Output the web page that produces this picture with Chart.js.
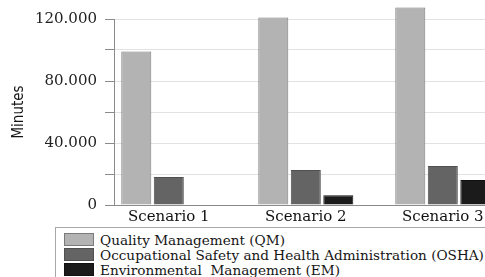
<!DOCTYPE html>
<html>
<head>
<meta charset="utf-8">
<script src="https://cdn.jsdelivr.net/npm/chart.js@4/dist/chart.umd.min.js"></script>
<style>
    html, body { margin: 0; padding: 0; background: #fff; overflow: hidden; width: 485px; height: 277px; }
    #wrap { position: relative; width: 485px; height: 277px; }
    #chart { position: absolute; left: 0; top: 0; }
    #legend {
        position: absolute; left: 55px; top: 227px; width: 440px; height: 60px;
        border: 1px solid #a8a8a8; box-sizing: border-box; padding: 4px 0 0 8px;
        font-family: 'DejaVu Serif', serif; font-size: 13.6px; color: #151515;
    }
    .row { display: flex; align-items: center; height: 15px; white-space: pre; }
    .sw { width: 28px; height: 11px; margin-right: 6px; border: 1px solid #777; flex: none; }
</style>
</head>
<body>
<div id="wrap">
    <canvas id="chart" width="485" height="224"></canvas>
    <div id="legend"></div>
</div>
<script>
var categories = ['Scenario 1', 'Scenario 2', 'Scenario 3'];
var seriesNames = [
    'Quality Management (QM)',
    'Occupational Safety and Health Administration (OSHA)',
    'Environmental  Management (EM)'
];
var qmValues = [99000, 121000, 127500];
var oshaValues = [18000, 22600, 25200];
var emValues = [400, 6300, 16100];
var yTicks = [0, 20000, 40000, 60000, 80000, 100000, 120000];

var fills = ['#b3b3b3', '#646464', '#1b1b1b'];
var borders = ['#7a7a7a', '#505050', '#111111'];

function points(values) {
    return values.map(function (v, i) { return { x: i + 1, y: v }; });
}

function noPadding(scale) {
    scale.paddingTop = 0;
    scale.paddingBottom = 0;
    scale.paddingLeft = 0;
    scale.paddingRight = 0;
}

document.addEventListener('DOMContentLoaded', function () {
    var ctx = document.getElementById('chart').getContext('2d');
    var all = [qmValues, oshaValues, emValues];
    var datasets = all.map(function (vals, i) {
        return {
            label: seriesNames[i],
            data: points(vals),
            backgroundColor: fills[i],
            borderColor: borders[i],
            borderWidth: 1,
            clip: false, // tallest bar pokes above the 120.000 line
            categoryPercentage: 0.712,
            barPercentage: 0.923
        };
    });

    new Chart(ctx, {
        type: 'bar',
        data: { datasets: datasets },
        options: {
            responsive: false,
            animation: false,
            layout: { padding: { top: 19, left: 0, right: 0, bottom: 0 } },
            plugins: {
                legend: { display: false },
                tooltip: { enabled: false }
            },
            scales: {
                x: {
                    type: 'linear',
                    offset: false,
                    min: 0.6,
                    max: 3.308,
                    afterBuildTicks: function (scale) {
                        scale.ticks = categories.map(function (c, i) { return { value: i + 1 }; });
                    },
                    afterFit: function (scale) { scale.height = 19; noPadding(scale); },
                    grid: { display: false, drawTicks: false },
                    border: { display: true, color: '#8a8a8a' },
                    ticks: {
                        padding: 3,
                        maxRotation: 0,
                        color: '#111',
                        font: { family: 'DejaVu Serif', size: 15 },
                        callback: function (v) { return categories[v - 1]; }
                    }
                },
                y: {
                    min: 0,
                    max: 120000,
                    afterBuildTicks: function (scale) {
                        scale.ticks = yTicks.map(function (v) { return { value: v }; });
                    },
                    afterFit: function (scale) { scale.width = 114; noPadding(scale); },
                    grid: { color: '#e2e2e2', tickColor: '#8a8a8a', tickLength: 9 },
                    border: { display: true, color: '#8a8a8a' },
                    title: {
                        display: true,
                        text: 'Minutes',
                        color: '#151515',
                        padding: { top: 10, bottom: 0 },
                        font: { family: "'Liberation Sans Narrow', 'DejaVu Sans Condensed', sans-serif", size: 15 }
                    },
                    ticks: {
                        padding: 8,
                        color: '#222',
                        font: { family: 'DejaVu Serif', size: 15 },
                        callback: function (v) {
                            if (v % 40000 !== 0) return '';
                            return String(v).replace(/\B(?=(\d{3})+(?!\d))/g, '.');
                        }
                    }
                }
            }
        }
    });

    // legend box built from the same series
    var legend = document.getElementById('legend');
    seriesNames.forEach(function (name, i) {
        var row = document.createElement('div');
        row.className = 'row';
        var sw = document.createElement('span');
        sw.className = 'sw';
        sw.style.background = fills[i];
        sw.style.borderColor = borders[i];
        var txt = document.createElement('span');
        txt.textContent = name;
        row.appendChild(sw);
        row.appendChild(txt);
        legend.appendChild(row);
    });
});
</script>
</body>
</html>
